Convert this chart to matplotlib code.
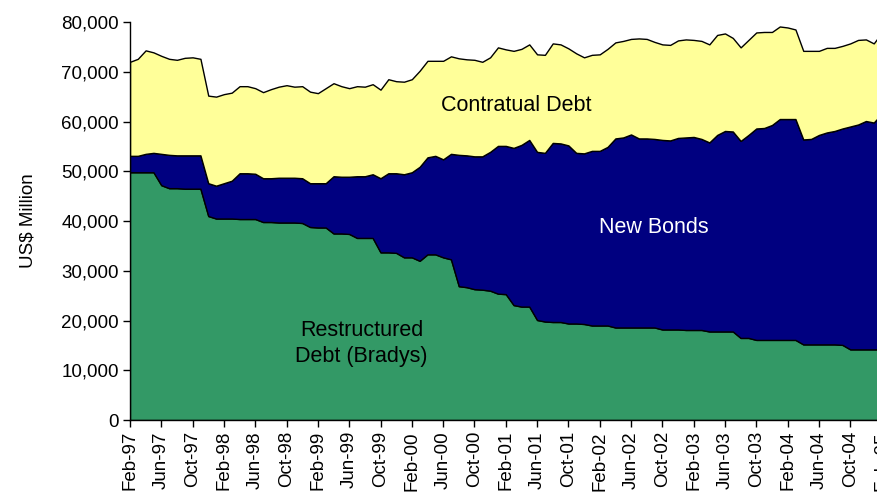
"""Stacked area chart of outstanding external debt by instrument, Feb-97 to Feb-05."""

from __future__ import annotations

import matplotlib
import numpy as np
import pandas as pd

matplotlib.use("Agg")

from matplotlib import pyplot as plt
from matplotlib.ticker import StrMethodFormatter

OUTPUT_PNG = "out.png"

MONTHS = pd.date_range("1997-02-01", periods=97, freq="MS")
MONTH_LABELS = [m.strftime("%b-%y") for m in MONTHS]

RESTRUCTURED = [
    49.8, 49.8, 49.8, 49.8, 47.2, 46.6, 46.6, 46.5, 46.5, 46.5,
    41.0, 40.5, 40.5, 40.5, 40.4, 40.4, 40.4, 39.8, 39.8, 39.7,
    39.7, 39.7, 39.6, 38.8, 38.7, 38.7, 37.5, 37.5, 37.4, 36.6,
    36.6, 36.6, 33.7, 33.7, 33.6, 32.7, 32.7, 32.0, 33.3, 33.3,
    32.7, 32.3, 26.9, 26.7, 26.3, 26.2, 26.0, 25.4, 25.3, 23.1,
    22.8, 22.8, 20.1, 19.8, 19.7, 19.7, 19.4, 19.4, 19.3, 19.0,
    19.0, 19.0, 18.6, 18.6, 18.6, 18.6, 18.6, 18.6, 18.2, 18.2,
    18.2, 18.1, 18.1, 18.1, 17.8, 17.8, 17.8, 17.8, 16.5, 16.5,
    16.1, 16.1, 16.1, 16.1, 16.1, 16.1, 15.2, 15.2, 15.2, 15.2,
    15.2, 15.1, 14.2, 14.2, 14.2, 14.2, 14.2,
]
NEW_BONDS = [
    3.3, 3.3, 3.7, 3.9, 6.3, 6.7, 6.6, 6.7, 6.7, 6.7,
    6.6, 6.6, 7.1, 7.6, 9.2, 9.2, 9.1, 8.8, 8.8, 9.0,
    9.0, 9.0, 9.0, 8.8, 8.9, 8.9, 11.5, 11.4, 11.5, 12.4,
    12.4, 12.8, 14.9, 15.9, 16.0, 16.7, 17.1, 18.9, 19.5, 19.8,
    19.7, 21.2, 26.4, 26.5, 26.7, 26.8, 27.9, 29.7, 29.8, 31.6,
    32.5, 33.5, 33.8, 33.9, 36.0, 35.9, 35.8, 34.3, 34.3, 35.1,
    35.1, 35.9, 38.0, 38.2, 38.8, 38.0, 38.0, 37.9, 38.1, 38.0,
    38.5, 38.7, 38.8, 38.4, 38.0, 39.5, 40.3, 40.2, 39.6, 40.8,
    42.5, 42.6, 43.2, 44.4, 44.4, 44.4, 41.2, 41.3, 42.1, 42.6,
    42.9, 43.5, 44.8, 45.2, 45.9, 45.6, 47.3,
]
CONTRACTUAL = [
    18.9, 19.5, 20.8, 20.2, 19.7, 19.3, 19.2, 19.6, 19.7, 19.4,
    17.6, 17.9, 17.9, 17.7, 17.5, 17.5, 17.2, 17.3, 17.9, 18.3,
    18.6, 18.3, 18.5, 18.4, 18.1, 19.1, 18.7, 18.2, 17.8, 18.1,
    18.0, 18.1, 17.8, 18.9, 18.5, 18.6, 18.7, 19.3, 19.4, 19.1,
    19.8, 19.6, 19.4, 19.3, 19.4, 19.0, 19.0, 19.8, 19.4, 19.5,
    19.3, 19.2, 19.6, 19.7, 20.0, 19.9, 19.5, 20.0, 19.3, 19.3,
    19.4, 19.7, 19.3, 19.4, 19.2, 20.1, 20.0, 19.5, 19.2, 19.2,
    19.6, 19.7, 19.5, 19.7, 19.7, 20.1, 19.6, 18.8, 18.8, 19.1,
    19.3, 19.3, 18.7, 18.6, 18.4, 18.0, 17.8, 17.7, 16.9, 17.0,
    16.7, 16.6, 16.7, 17.0, 16.4, 15.9, 16.3,
]

COLORS = ["#339966", "#000080", "#ffff99"]


def plot_debt() -> None:
    plt.rcParams["font.family"] = ["Liberation Sans", "DejaVu Sans"]

    x = np.arange(len(MONTHS))
    layers = [np.array(s) * 1000 for s in (RESTRUCTURED, NEW_BONDS, CONTRACTUAL)]

    fig = plt.figure(figsize=(8.77, 4.99), dpi=100)
    # axes run slightly past the right edge, as in the original export
    ax = fig.add_axes([0.1482, 0.1583, 0.857, 0.7976])
    ax.stackplot(x, *layers, colors=COLORS, edgecolor="black", linewidth=1.0)

    ax.set_xlim(0, len(MONTHS) - 1)
    ax.set_ylim(0, 80000)
    ax.set_yticks(np.arange(0, 80001, 10000))
    ax.yaxis.set_major_formatter(StrMethodFormatter("{x:,.0f}"))
    ax.set_xticks(x[::4])
    ax.set_xticklabels(MONTH_LABELS[::4], rotation=90)
    ax.tick_params(axis="both", direction="out", length=5, width=1, labelsize=13.5, pad=3)
    ax.set_ylabel("US$ Million", fontsize=13.5, labelpad=18)

    for side in ("top", "right"):
        ax.spines[side].set_visible(False)
    ax.spines["left"].set_linewidth(1)
    ax.spines["bottom"].set_linewidth(1)

    ax.text(49.3, 63300, "Contratual Debt", fontsize=15.5, ha="center", va="center")
    ax.text(66.9, 38600, "New Bonds", fontsize=15.5, ha="center", va="center", color="white")
    ax.text(29.6, 15300, "Restructured\nDebt (Bradys)", fontsize=15.5,
            ha="center", va="center", linespacing=1.3)

    fig.savefig(OUTPUT_PNG, dpi=100)
    plt.close(fig)


def main() -> None:
    plot_debt()


if __name__ == "__main__":
    main()
